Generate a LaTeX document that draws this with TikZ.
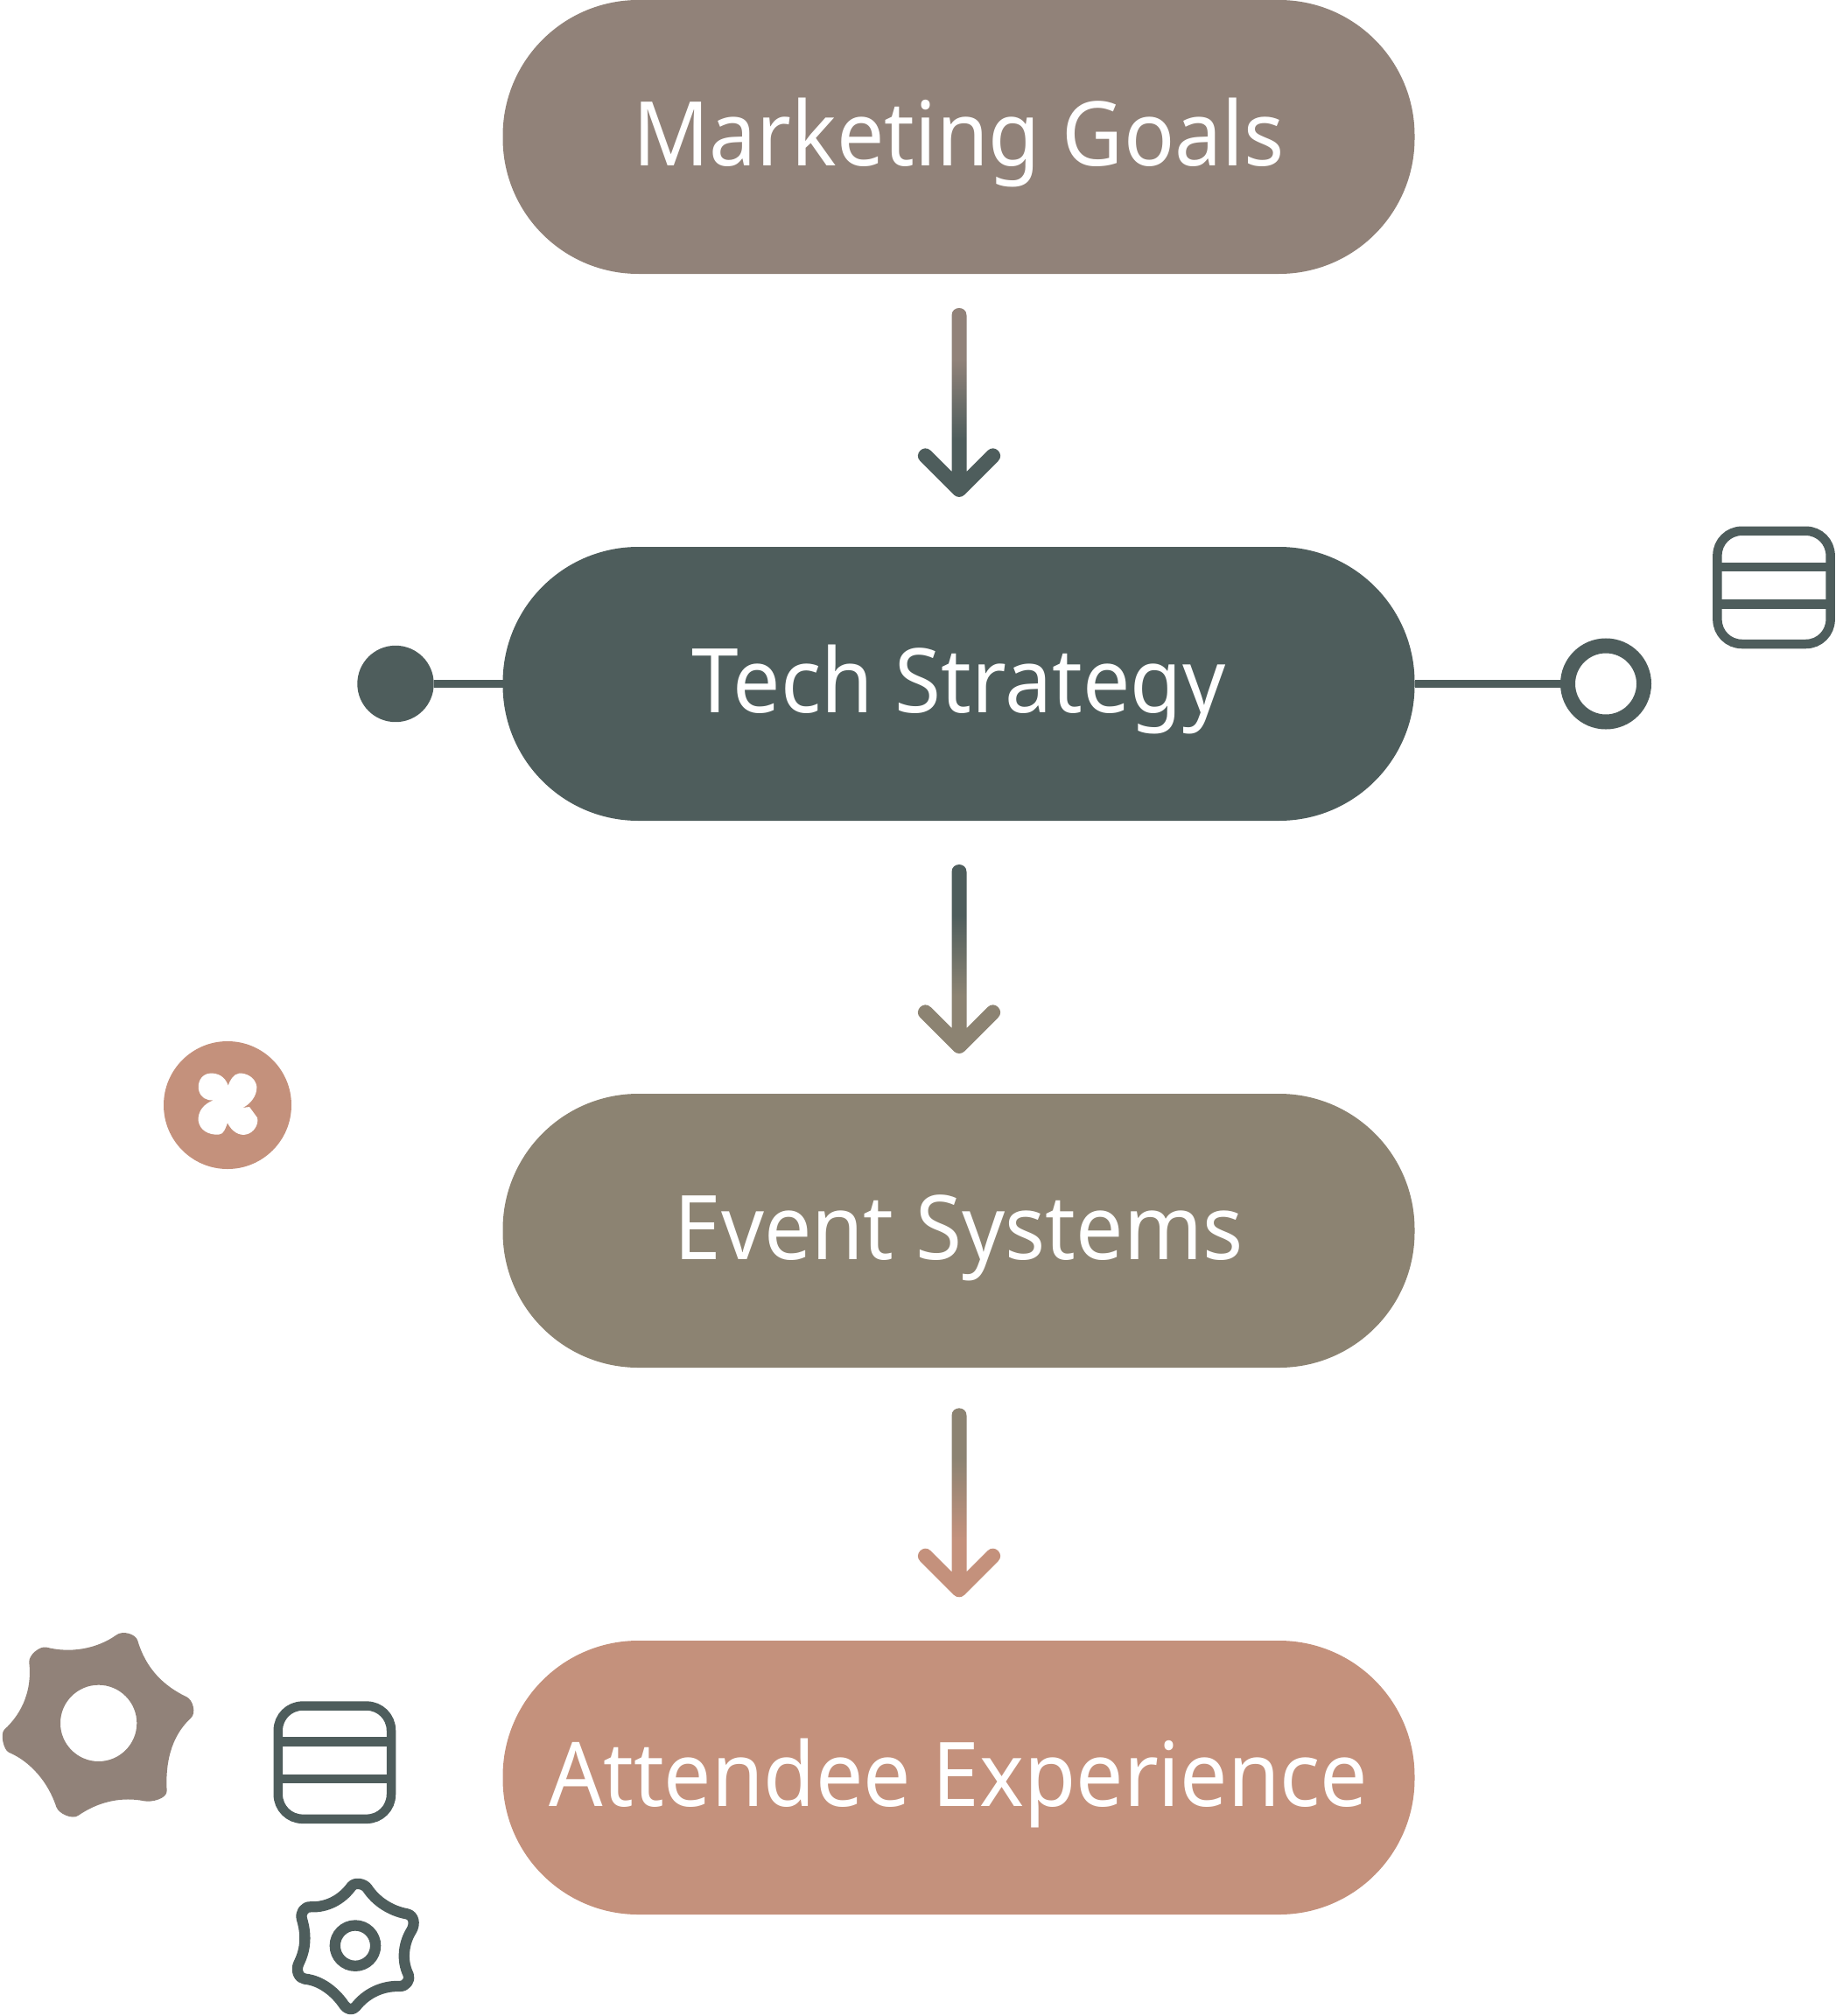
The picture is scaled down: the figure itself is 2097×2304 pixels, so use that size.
\documentclass[tikz,border=0pt]{standalone}
\usepackage{fontspec}
\setmainfont[FakeStretch=0.945]{Noto Sans}
\usetikzlibrary{calc}
\definecolor{cmark}{HTML}{918279}
\definecolor{ctech}{HTML}{4E5D5C}
\definecolor{cevent}{HTML}{8C8372}
\definecolor{catt}{HTML}{C4917C}
\pgfdeclareverticalshading{flowone}{100bp}{color(0bp)=(ctech); color(40.2bp)=(ctech); color(61.2bp)=(cmark); color(100bp)=(cmark)}
\pgfdeclareverticalshading{flowtwo}{100bp}{color(0bp)=(cevent); color(40.2bp)=(cevent); color(61.2bp)=(ctech); color(100bp)=(ctech)}
\pgfdeclareverticalshading{flowthree}{100bp}{color(0bp)=(catt); color(40.2bp)=(catt); color(61.2bp)=(cevent); color(100bp)=(cevent)}
\tikzset{
  pill/.style={rectangle,rounded corners=155pt,minimum width=1042pt,minimum height=313pt,inner sep=0pt,outer sep=0pt,text=white,text height=65pt,text depth=0pt,font=\fontsize{102}{120}\selectfont},
  link/.style={draw=ctech,line width=8.7pt},
  dotend/.style={circle,fill=ctech,minimum size=87.4pt,inner sep=0pt,outer sep=0pt},
  ringend/.style={circle,draw=ctech,fill=white,line width=17pt,minimum size=87pt,inner sep=0pt,outer sep=0pt},
  tablebox/.style={rectangle,draw=ctech,line width=10.5pt,rounded corners=28pt,minimum size=129.2pt,inner sep=0pt,outer sep=0pt},
  tablerule/.style={draw=ctech,line width=10.5pt},
}
\newcommand{\flowarrow}[2]{%
  \begin{scope}[shift={(#1)}]
  \shade[shading=#2]
    (-8.5,-199) .. controls (-8.5,-210.3) and (8.5,-210.3) .. (8.5,-199)
    -- (8.5,-20.5) -- (32.5,-44.5)
    .. controls (40.5,-52.5) and (52.5,-40.5) .. (44.5,-32.5)
    -- (6,6) .. controls (2.7,9.3) and (-2.7,9.3) .. (-6,6)
    -- (-44.5,-32.5) .. controls (-52.5,-40.5) and (-40.5,-52.5) .. (-32.5,-44.5)
    -- (-8.5,-20.5) -- cycle;
  \end{scope}}
\newcommand{\tableicon}[3]{%
  \node[tablebox] (#1) at (#2,#3) {};
  \coordinate (#1l1) at (#2-64.6,#3-23.6);
  \coordinate (#1r1) at (#2+64.6,#3-23.6);
  \coordinate (#1l2) at (#2-64.6,#3+19);
  \coordinate (#1r2) at (#2+64.6,#3+19);
  \draw[tablerule] (#1l1) -- (#1r1);
  \draw[tablerule] (#1l2) -- (#1r2);}
\begin{document}
\begin{tikzpicture}[x=1pt,y=-1pt]
\useasboundingbox (0,0) rectangle (2097,2304);
\node[pill,fill=cmark] (marketing) at (1095.5,156.5) {Marketing Goals};
\node[pill,fill=ctech] (tech) at (1095.5,781.5) {Tech Strategy};
\node[pill,fill=cevent] (event) at (1095.5,1406.5) {Event Systems};
\node[pill,fill=catt] (attendee) at (1095.5,2031.5) {Attendee Experience};
% arrows
\coordinate (a1) at ($(marketing.south)+(0.5,246.5)$);
\coordinate (a2) at ($(tech.south)+(0.5,257.5)$);
\coordinate (a3) at ($(event.south)+(0.5,253.8)$);
\flowarrow{a1}{flowone}
\flowarrow{a2}{flowtwo}
\flowarrow{a3}{flowthree}
% side connectors
\node[dotend] (dot) at (452,781.5) {};
\node[ringend] (ring) at (1835,781.5) {};
\draw[link] (dot) -- (tech);
\draw[link] (tech) -- (ring);
% table icons
\tableicon{tabr}{2027}{671.4}
\tableicon{tabl}{382.4}{2014.2}
% flower badge
\node[circle,fill=catt,minimum size=146pt,inner sep=0pt] (badge) at (260,1263) {};
\begin{scope}[shift={(170,1170)},x=0.3333pt,y=-0.3333pt]
\fill[white] (272,212) .. controls (262,180) and (235,168) .. (210,170)
  .. controls (178,172) and (165,205) .. (172,230)
  .. controls (178,252) and (198,265) .. (222,262)
  .. controls (188,275) and (168,300) .. (170,332)
  .. controls (174,365) and (205,382) .. (240,380)
  .. controls (258,378) and (262,360) .. (270,340)
  .. controls (285,370) and (310,384) .. (332,380)
  .. controls (360,375) and (378,345) .. (372,322)
  -- (345,285) -- (322,288)
  .. controls (350,275) and (372,245) .. (370,215)
  .. controls (366,185) and (335,168) .. (310,170)
  .. controls (290,172) and (278,195) .. (272,212) -- cycle;
\end{scope}
% gears
\begin{scope}[shift={(0,1830)},x=0.3333pt,y=-0.3333pt]
\fill[cmark,even odd rule]
  (400,115) .. controls (420,100) and (465,111) .. (472,135)
  .. controls (500,230) and (560,290) .. (640,328)
  .. controls (662,339) and (673,383) .. (655,400)
  .. controls (600,450) and (565,530) .. (572,650)
  .. controls (573,677) and (520,690) .. (495,685)
  .. controls (420,670) and (340,685) .. (268,735)
  .. controls (248,749) and (201,729) .. (193,705)
  .. controls (165,620) and (105,550) .. (30,518)
  .. controls (12,510) and (0,454) .. (15,440)
  .. controls (80,380) and (110,300) .. (100,210)
  .. controls (97,185) and (136,152) .. (160,158)
  .. controls (240,178) and (330,165) .. (400,115) -- cycle
  (338,418) circle[radius=131];
\draw[ctech,line width=12.3pt,line join=round]
  (1205,978) .. controls (1217,962) and (1249,968) .. (1260,985)
  .. controls (1290,1030) and (1340,1062) .. (1395,1072)
  .. controls (1417,1076) and (1426,1104) .. (1410,1130)
  .. controls (1385,1170) and (1375,1230) .. (1400,1280)
  .. controls (1408,1298) and (1392,1321) .. (1370,1320)
  .. controls (1310,1318) and (1255,1345) .. (1220,1390)
  .. controls (1209,1404) and (1190,1400) .. (1180,1385)
  .. controls (1150,1340) and (1100,1300) .. (1045,1295)
  .. controls (1025,1293) and (1012,1266) .. (1025,1240)
  .. controls (1050,1190) and (1050,1140) .. (1035,1090)
  .. controls (1029,1068) and (1043,1047) .. (1065,1048)
  .. controls (1120,1050) and (1170,1025) .. (1205,978) -- cycle;
\draw[ctech,line width=12.3pt] (1218,1181) circle[radius=208.5*0.3333];
\end{scope}
\end{tikzpicture}
\end{document}
